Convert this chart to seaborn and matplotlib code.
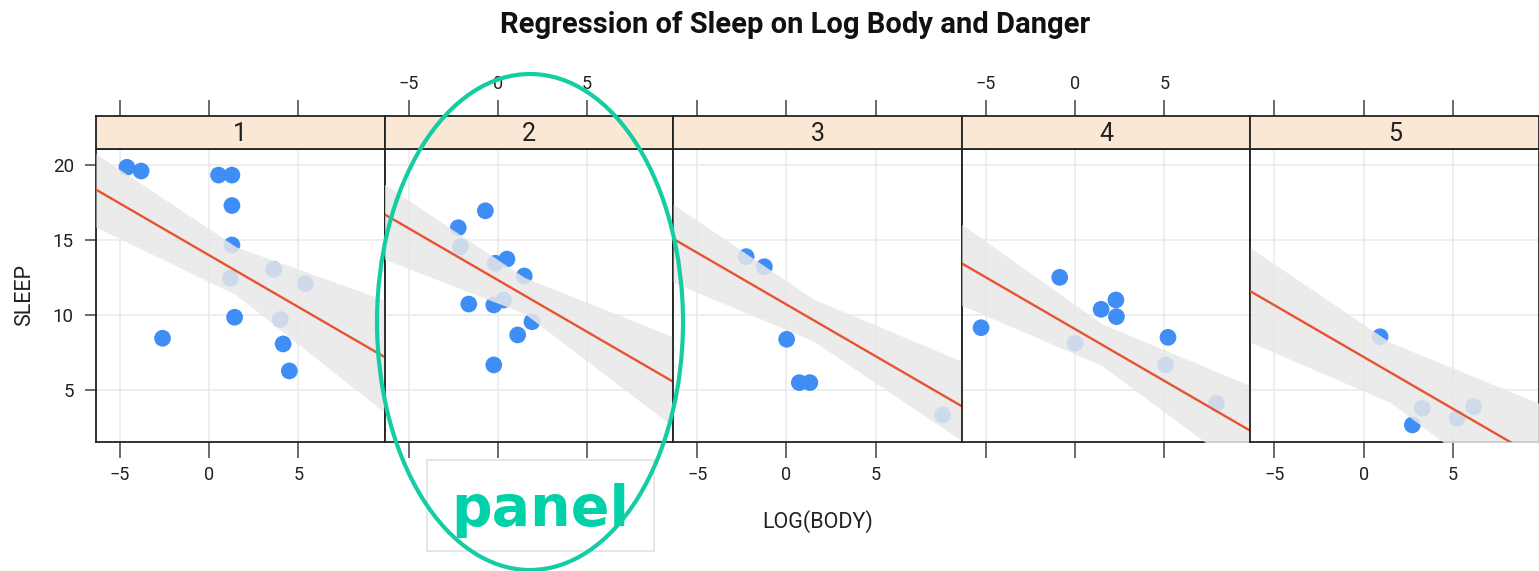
import numpy as np
import pandas as pd
import matplotlib
matplotlib.use("Agg")
import matplotlib.pyplot as plt
from matplotlib.patches import Ellipse, Rectangle
import seaborn as sns

# ---------------- data ----------------
danger_levels = [1, 2, 3, 4, 5]

logbody_d1 = [-4.62, -3.82, 0.52, 1.27, 1.27, 1.27, 1.18, 3.61, 5.39, 1.42, -2.62, 3.99, 4.14, 4.49]
sleep_d1 = [19.85, 19.6, 19.33, 19.33, 17.3, 14.67, 12.45, 13.05, 12.1, 9.85, 8.45, 9.7, 8.07, 6.27]

logbody_d2 = [-0.70, -2.22, 0.51, -0.14, 1.48, -1.63, -0.23, 0.32, 1.91, 1.11, -0.23, -2.1]
sleep_d2 = [16.95, 15.82, 13.73, 13.45, 12.6, 10.73, 10.67, 11.0, 9.55, 8.67, 6.67, 14.55]

logbody_d3 = [-2.26, -1.24, 0.01, 0.72, 1.31, 8.76]
sleep_d3 = [13.89, 13.22, 8.38, 5.49, 5.49, 3.33]

logbody_d4 = [-5.27, -0.86, 1.46, 2.29, 2.32, 5.21, 0.0, 5.07, 7.93]
sleep_d4 = [9.15, 12.51, 10.38, 11.0, 9.89, 8.51, 8.11, 6.67, 4.11]

logbody_d5 = [0.92, 2.73, 3.29, 6.17, 5.24]
sleep_d5 = [8.55, 2.67, 3.78, 3.89, 3.11]

# fitted regression (common slope, one intercept per danger level)
slope = -0.69
intercepts = [13.98, 12.33, 10.7, 9.06, 7.2]

# spread of the posterior lines (offsets from fitted line) at three x positions
band_x = [-6.35, 1.5, 9.83]
band_upper = [[2.4, 1.6, 3.8], [2.0, 1.2, 3.0], [2.3, 1.4, 3.0], [2.6, 1.4, 3.0], [2.9, 2.0, 3.7]]
band_lower = [[-2.5, -1.6, -3.7], [-3.0, -1.2, -3.0], [-2.9, -1.4, -2.3], [-2.8, -1.4, -3.0], [-3.4, -2.0, -3.7]]

x_ticks = [-5, 0, 5]
y_ticks = [5, 10, 15, 20]

title = "Regression of Sleep on Log Body and Danger"
x_label = "LOG(BODY)"
y_label = "SLEEP"
note = "panel"

# ---------------- build table ----------------
xs_all = [logbody_d1, logbody_d2, logbody_d3, logbody_d4, logbody_d5]
ys_all = [sleep_d1, sleep_d2, sleep_d3, sleep_d4, sleep_d5]
frames = []
for lvl, xv, yv in zip(danger_levels, xs_all, ys_all):
    frames.append(pd.DataFrame({"danger": lvl, "logbody": xv, "sleep": yv}))
df = pd.concat(frames, ignore_index=True)

# ---------------- style ----------------
sns.set_theme(style="white")
plt.rcParams["font.family"] = ["Roboto", "DejaVu Sans"]

W, H = 1539, 571
XLIM = (-6.35, 9.83)
YLIM = (1.53, 21.07)
POINT_COLOR = "#3F8EF5"
LINE_COLOR = "#E8532F"
BAND_COLOR = "#E8E8E8"
GRID_COLOR = "#E9E9E9"
STRIP_COLOR = "#FAE8D4"
TEXT_COLOR = "#222222"
TEAL = "#14CDA3"

g = sns.FacetGrid(df, col="danger", col_order=danger_levels, sharex=True, sharey=True,
                  despine=False, height=4, aspect=0.7)
g.map_dataframe(sns.scatterplot, x="logbody", y="sleep", color=POINT_COLOR, s=145,
                edgecolor="none", linewidth=0, zorder=2)

fig = g.figure
axes = list(g.axes.flat)

for i, ax in enumerate(axes):
    ax.set_xlim(*XLIM)
    ax.set_ylim(*YLIM)
    bx = np.array(band_x)
    fit = intercepts[i] + slope * bx
    ax.fill_between(bx, fit + np.array(band_lower[i]), fit + np.array(band_upper[i]),
                    color=BAND_COLOR, alpha=0.85, linewidth=0, zorder=3)
    lx = np.array(XLIM)
    ax.plot(lx, intercepts[i] + slope * lx, color=LINE_COLOR, lw=1.7, zorder=4)
    ax.set_xticks(x_ticks)
    ax.set_yticks(y_ticks)
    ax.grid(True, color=GRID_COLOR, lw=1.1)
    ax.set_axisbelow(True)
    ax.set_title("")
    ax.set_xlabel("")
    ax.set_ylabel("")
    for sp in ax.spines.values():
        sp.set_color("#222222")
        sp.set_linewidth(1.3)
    ax.tick_params(axis="x", bottom=True, top=False, labelbottom=(i % 2 == 0),
                   length=11.5, width=1.1, color="#444444", pad=6,
                   labelsize=13, labelcolor=TEXT_COLOR)
    ax.tick_params(axis="y", left=(i == 0), right=False, labelleft=(i == 0),
                   length=8, width=1.1, color="#444444", pad=8,
                   labelsize=13.5, labelcolor=TEXT_COLOR)

fig.set_size_inches(W / 100, H / 100)
fig.subplots_adjust(left=96 / W, right=1.0, bottom=1 - 442 / H, top=1 - 149 / H, wspace=0)

strip_h = 33 / H
for i, ax in enumerate(axes):
    pos = ax.get_position()
    sax = fig.add_axes([pos.x0, pos.y1, pos.width, strip_h])
    sax.set_facecolor(STRIP_COLOR)
    sax.set_xlim(*XLIM)
    sax.set_ylim(0, 1)
    sax.set_yticks([])
    sax.set_xticks(x_ticks)
    sax.xaxis.set_ticks_position("top")
    sax.tick_params(axis="x", top=True, bottom=False, labeltop=(i % 2 == 1), labelbottom=False,
                    length=11.5, width=1.1, color="#444444", pad=5,
                    labelsize=13, labelcolor=TEXT_COLOR)
    for sp in sax.spines.values():
        sp.set_color("#222222")
        sp.set_linewidth(1.3)
    sax.text(0.5, 0.45, str(danger_levels[i]), transform=sax.transAxes, ha="center", va="center",
             fontsize=18, color=TEXT_COLOR)

fig.text(795 / W, 1 - 25 / H, title, ha="center", va="center", fontsize=21,
         fontweight="bold", color="#111111")
fig.text(818 / W, 1 - 522 / H, x_label, ha="center", va="center", fontsize=15.5, color=TEXT_COLOR)
fig.text(25 / W, 1 - 295 / H, y_label, ha="center", va="center", fontsize=15.5, rotation=90,
         color=TEXT_COLOR)

# annotation overlay
box = Rectangle((427 / W, 1 - 551 / H), (654 - 427) / W, (551 - 460) / H,
                transform=fig.transFigure, fill=False, edgecolor="#E2E2E2", lw=1.2, zorder=10)
fig.add_artist(box)
fig.text(540 / W, 1 - 510 / H, note, ha="center", va="center", fontsize=41,
         fontweight="bold", color="#00D1A8", family="DejaVu Sans", zorder=11)
ell = Ellipse((530 / W, 1 - 322 / H), 306 / W, 496 / H, transform=fig.transFigure,
              fill=False, edgecolor=TEAL, lw=3, zorder=12)
fig.add_artist(ell)

fig.savefig("out.png", dpi=100)
